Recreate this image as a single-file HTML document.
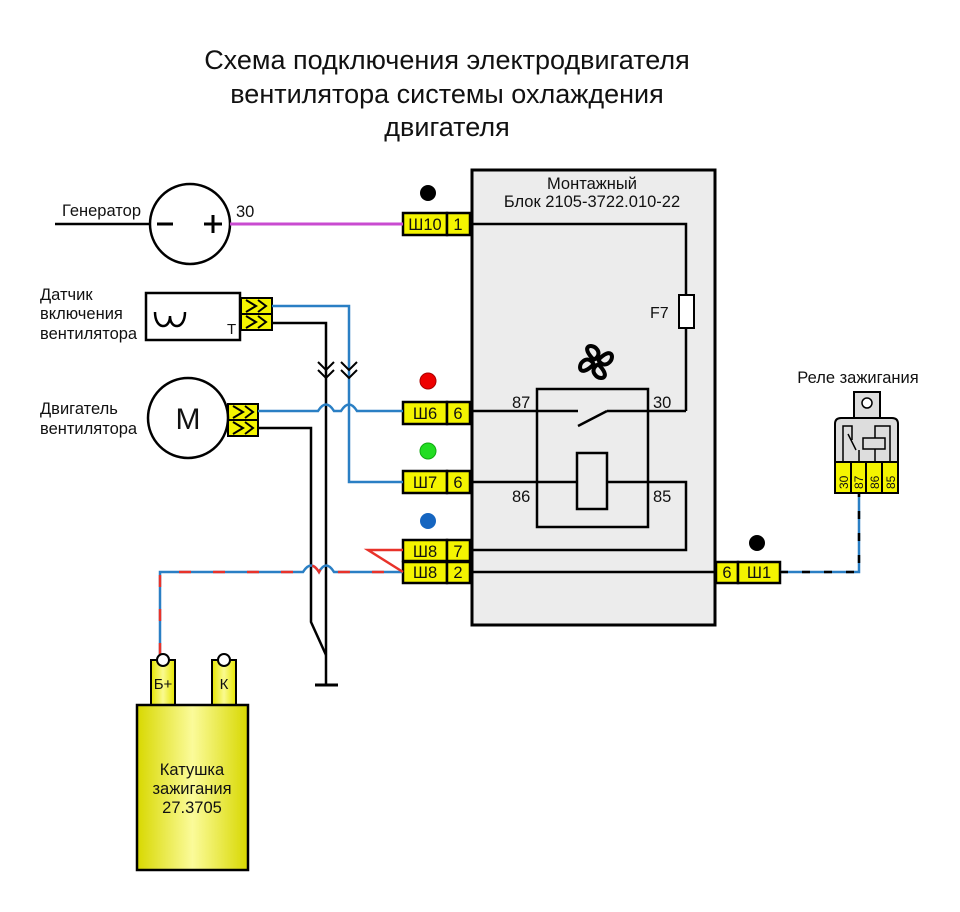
<!DOCTYPE html>
<html><head><meta charset="utf-8"><style>
html,body{margin:0;padding:0;background:#fff}
svg{display:block}
text{font-family:"Liberation Sans",sans-serif;fill:#111}
</style></head><body>
<svg width="960" height="912" viewBox="0 0 960 912" xmlns="http://www.w3.org/2000/svg">
<defs>
<linearGradient id="cg" x1="0" x2="1" y1="0" y2="0">
<stop offset="0" stop-color="#d8d800"/><stop offset="0.5" stop-color="#fbfb9a"/><stop offset="1" stop-color="#d8d800"/>
</linearGradient>
<linearGradient id="tg" x1="0" x2="1"><stop offset="0" stop-color="#e6e600"/><stop offset="0.5" stop-color="#fafa90"/><stop offset="1" stop-color="#e6e600"/></linearGradient>
</defs>
<!-- title -->
<g font-size="27" text-anchor="middle">
<text x="447" y="69">Схема подключения электродвигателя</text>
<text x="447" y="103">вентилятора системы охлаждения</text>
<text x="447" y="136">двигателя</text>
</g>

<!-- block -->
<rect x="472" y="170" width="243" height="455" fill="#ececec" stroke="#000" stroke-width="3"/>
<text x="592" y="189" font-size="16.5" text-anchor="middle">Монтажный</text>
<text x="592" y="207" font-size="16.5" text-anchor="middle">Блок 2105-3722.010-22</text>

<g fill="none" stroke="#000" stroke-width="2.5">
<polyline points="470,224 686,224 686,295"/>
<line x1="686" y1="328" x2="686" y2="411"/>
<polyline points="470,411 578,411"/>
<line x1="578" y1="426" x2="607" y2="411"/>
<line x1="607" y1="411" x2="686" y2="411"/>
<rect x="537" y="389" width="111" height="138"/>
<line x1="470" y1="482" x2="577" y2="482"/>
<rect x="577" y="453" width="30" height="56"/>
<polyline points="607,482 686,482 686,550 470,550"/>
<line x1="470" y1="572" x2="716" y2="572"/>
</g>
<rect x="679" y="295" width="15" height="33" fill="#fff" stroke="#000" stroke-width="2"/>
<text x="650" y="318" font-size="16">F7</text>
<g font-size="16.5"><text x="512" y="408">87</text><text x="653" y="408">30</text><text x="512" y="502">86</text><text x="653" y="502">85</text></g>
<!-- fan -->
<g fill="none" stroke="#000" stroke-width="3.5" transform="translate(596,362) scale(1.15)">
<path d="M-2,-2 C-14,-14 -4,-16 0,-12 C4,-8 2,-4 -2,-2Z"/>
<path d="M-2,-2 C-14,-14 -4,-16 0,-12 C4,-8 2,-4 -2,-2Z" transform="rotate(90)"/>
<path d="M-2,-2 C-14,-14 -4,-16 0,-12 C4,-8 2,-4 -2,-2Z" transform="rotate(180)"/>
<path d="M-2,-2 C-14,-14 -4,-16 0,-12 C4,-8 2,-4 -2,-2Z" transform="rotate(270)"/>
</g>

<!-- connectors -->
<g stroke="#000" stroke-width="2.5" fill="#f4f400">
<rect x="403" y="213" width="44" height="22"/><rect x="447" y="213" width="23" height="22"/>
<rect x="403" y="402" width="44" height="22"/><rect x="447" y="402" width="23" height="22"/>
<rect x="403" y="471" width="44" height="22"/><rect x="447" y="471" width="23" height="22"/>
<rect x="403" y="540" width="44" height="21"/><rect x="447" y="540" width="23" height="21"/>
<rect x="403" y="562" width="44" height="21"/><rect x="447" y="562" width="23" height="21"/>
<rect x="716" y="562" width="22" height="21"/><rect x="738" y="562" width="42" height="21"/>
</g>
<g font-size="16.5" text-anchor="middle">
<text x="425" y="230">Ш10</text><text x="458" y="230">1</text>
<text x="425" y="419">Ш6</text><text x="458" y="419">6</text>
<text x="425" y="488">Ш7</text><text x="458" y="488">6</text>
<text x="425" y="557">Ш8</text><text x="458" y="557">7</text>
<text x="425" y="578">Ш8</text><text x="458" y="578">2</text>
<text x="727" y="578">6</text><text x="759" y="578">Ш1</text>
</g>
<circle cx="428" cy="193" r="8" fill="#000"/>
<circle cx="428" cy="381" r="8" fill="#e00" stroke="#a00"/>
<circle cx="428" cy="451" r="8" fill="#2d2" stroke="#1a1"/>
<circle cx="428" cy="521" r="8" fill="#1565c0"/>
<circle cx="757" cy="543" r="8" fill="#000"/>

<!-- generator -->
<text x="62" y="216" font-size="16.5">Генератор</text>
<line x1="55" y1="224" x2="150" y2="224" stroke="#000" stroke-width="2.5"/>
<circle cx="190" cy="224" r="40" fill="#fff" stroke="#000" stroke-width="2.5"/>
<line x1="157" y1="224" x2="173" y2="224" stroke="#000" stroke-width="3"/>
<line x1="204" y1="224" x2="222" y2="224" stroke="#000" stroke-width="3"/>
<line x1="213" y1="215" x2="213" y2="233" stroke="#000" stroke-width="3"/>
<line x1="230" y1="224" x2="403" y2="224" stroke="#c94bd0" stroke-width="3"/>
<text x="236" y="217" font-size="16.5">30</text>

<!-- labels -->
<g font-size="16.5"><text x="40" y="300">Датчик</text><text x="40" y="319">включения</text><text x="40" y="339">вентилятора</text>
<text x="40" y="414">Двигатель</text><text x="40" y="434">вентилятора</text></g>
<rect x="146" y="293" width="94" height="47" fill="#fff" stroke="#000" stroke-width="2.5"/>
<path d="M155,312 C155,330 170,330 170,316 C170,330 185,330 185,312" fill="none" stroke="#000" stroke-width="2.5"/>
<text x="227" y="334" font-size="15">Т</text>
<g stroke="#000" stroke-width="2" fill="#f4f400">
<rect x="241" y="298" width="31" height="16"/><rect x="241" y="314" width="31" height="16"/>
<rect x="228" y="404" width="30" height="16"/><rect x="228" y="420" width="30" height="16"/>
</g>
<g fill="none" stroke="#000" stroke-width="2">
<polyline points="246,300 256,306 246,312"/><polyline points="258,300 266,306 258,312"/>
<polyline points="246,316 256,322 246,328"/><polyline points="258,316 266,322 258,328"/>
<polyline points="233,406 243,412 233,418"/><polyline points="245,406 253,412 245,418"/>
<polyline points="233,422 243,428 233,434"/><polyline points="245,422 253,428 245,434"/>
</g>
<!-- motor -->
<circle cx="188" cy="418" r="40" fill="#fff" stroke="#000" stroke-width="2.5"/>
<text x="188" y="429" font-size="30" text-anchor="middle">M</text>

<!-- wires -->
<g fill="none" stroke-width="2.5">
<polyline points="272,306 349,306 349,378" stroke="#2a7fc4"/>
<polyline points="349,378 349,482 403,482" stroke="#2a7fc4"/>
<polyline points="272,323 326,323 326,685" stroke="#000"/>
<path d="M258,411 L318,411 Q326,398 334,411 L341,411 Q349,398 357,411 L403,411" stroke="#2a7fc4"/>
<polyline points="258,428 311,428 311,622 326,655" stroke="#000"/>
<line x1="315" y1="685" x2="338" y2="685" stroke="#000" stroke-width="3"/>
<g stroke="#000" stroke-width="2"><polyline points="318,362 326,370 334,362"/><polyline points="318,370 326,378 334,370"/><polyline points="341,362 349,370 357,362"/><polyline points="341,370 349,378 357,370"/></g>
<path d="M160,655 L160,572 L303,572 Q311,559 319,572 Q326,559 334,572 L403,572" stroke="#2a7fc4"/>
<path d="M160,655 L160,572 L303,572 Q311,559 319,572 Q326,559 334,572 L403,572" stroke="#e8322a" stroke-dasharray="12 22"/>
<polyline points="403,550 368,550 403,572" stroke="#e8322a"/>
<polyline points="780,572 859,572 859,493" stroke="#2a7fc4"/>
<polyline points="780,572 859,572 859,493" stroke="#000" stroke-dasharray="8 14"/>
</g>

<!-- ignition coil -->
<rect x="151" y="660" width="24" height="46" fill="url(#tg)" stroke="#000" stroke-width="2"/>
<rect x="212" y="660" width="24" height="46" fill="url(#tg)" stroke="#000" stroke-width="2"/>
<circle cx="163" cy="660" r="6" fill="#fff" stroke="#000" stroke-width="2"/>
<circle cx="224" cy="660" r="6" fill="#fff" stroke="#000" stroke-width="2"/>
<text x="163" y="689" font-size="15" text-anchor="middle">Б+</text>
<text x="224" y="689" font-size="15" text-anchor="middle">К</text>
<rect x="137" y="705" width="111" height="165" fill="url(#cg)" stroke="#000" stroke-width="2.5"/>
<g font-size="16.5" text-anchor="middle"><text x="192" y="775">Катушка</text><text x="192" y="794">зажигания</text><text x="192" y="813">27.3705</text></g>

<!-- ignition relay -->
<text x="858" y="383" font-size="16.5" text-anchor="middle">Реле зажигания</text>
<rect x="854" y="392" width="26" height="26" fill="#ddd" stroke="#000" stroke-width="2"/>
<circle cx="867" cy="403" r="5" fill="#fff" stroke="#000" stroke-width="1.5"/>
<path d="M835,462 L835,424 Q835,418 841,418 L892,418 Q898,418 898,424 L898,462Z" fill="#ddd" stroke="#000" stroke-width="2"/>
<g fill="none" stroke="#000" stroke-width="1.5">
<polyline points="843,462 843,426 852,426 852,440"/><line x1="848" y1="434" x2="856" y2="450"/><line x1="859" y1="450" x2="859" y2="462"/>
<rect x="863" y="438" width="22" height="11"/><polyline points="875,462 875,449"/><polyline points="875,438 875,426 890,426 890,462"/>
</g>
<g stroke="#000" stroke-width="2" fill="#f4f400">
<rect x="835" y="462" width="16" height="31"/><rect x="851" y="462" width="15" height="31"/><rect x="866" y="462" width="16" height="31"/><rect x="882" y="462" width="16" height="31"/>
</g>
<g font-size="12"><text transform="translate(848,489) rotate(-90)">30</text><text transform="translate(863,489) rotate(-90)">87</text><text transform="translate(879,489) rotate(-90)">86</text><text transform="translate(895,489) rotate(-90)">85</text></g>
</svg>
</body></html>
